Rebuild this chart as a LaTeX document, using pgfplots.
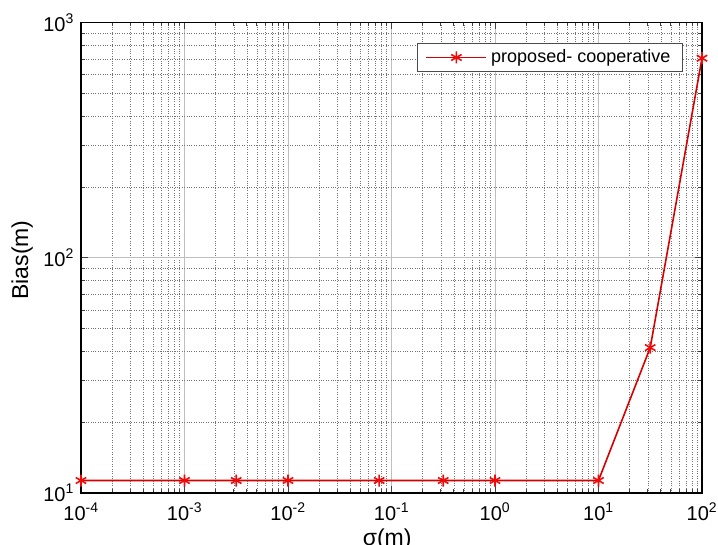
\documentclass[border=0pt]{standalone}
\usepackage{fontspec}
\setmainfont{Liberation Sans}
\usepackage{pgfplots}
\pgfplotsset{compat=1.18}
\definecolor{lineRed}{RGB}{215,0,0}
\definecolor{markRed}{RGB}{240,10,10}
\begin{document}
\fontsize{18}{21}\selectfont
\begin{tikzpicture}
\begin{axis}[
  name=ax,
  xmode=log, ymode=log,
  scale only axis, width=621pt, height=470.5pt,
  xmin=1e-4, xmax=1e2, ymin=10, ymax=1000,
  xtick={1e-4,1e-3,1e-2,1e-1,1,10,100},
  xticklabels={10\textsuperscript{-4},10\textsuperscript{-3},10\textsuperscript{-2},10\textsuperscript{-1},10\textsuperscript{0},10\textsuperscript{1},10\textsuperscript{2}},
  ytick={10,100,1000},
  yticklabels={10\textsuperscript{1},10\textsuperscript{2},10\textsuperscript{3}},
  tick align=inside,
  major tick length=7pt, minor tick length=4pt,
  every tick/.style={black!75, line width=0.8pt},
  grid=both,
  major grid style={black!25, line width=0.8pt},
  minor grid style={black!55, dotted, line width=0.6pt},
  axis line style={black, line width=1.2pt},
  ticklabel style={font=\fontsize{20}{23}\selectfont},
  xticklabel style={yshift=-4pt},
  yticklabel style={xshift=-1pt},
  xlabel={σ(m)},
  ylabel={Bias(m)},
  label style={font=\fontsize{23}{26}\selectfont},
  xlabel style={at={(axis description cs:0.493,0)}, anchor=north, inner sep=0pt, yshift=-36pt},
  ylabel style={at={(axis description cs:-0.077,0.495)}, anchor=south, inner sep=0pt},
  legend style={at={(axis description cs:0.969,0.956)}, anchor=north east,
    draw=black!70, line width=0.8pt, fill=white, inner xsep=8pt, inner ysep=4pt,
    font=\fontsize{18}{21}\selectfont, legend cell align=left,
    nodes={inner xsep=4pt}},
  legend image code/.code={\draw[mark repeat=2,mark phase=2] plot coordinates {(0pt,0pt) (30pt,0pt) (60pt,0pt)};},
]
\addplot[color=lineRed, line width=1.6pt, mark=asterisk, mark size=6pt,
  mark options={color=markRed, line width=1.6pt}]
  coordinates {
  (1e-4,11.3) (1e-3,11.3) (0.00316,11.3) (1e-2,11.3) (0.076,11.3)
  (0.316,11.3) (1,11.3) (10,11.3) (31.6,41.5) (100,705)
  };
\addlegendentry{proposed- cooperative}
\end{axis}
\pgfresetboundingbox
\path[use as bounding box] ([xshift=-81pt,yshift=-51pt]ax.south west) rectangle ([xshift=16pt,yshift=22.5pt]ax.north east);
\end{tikzpicture}
\end{document}
